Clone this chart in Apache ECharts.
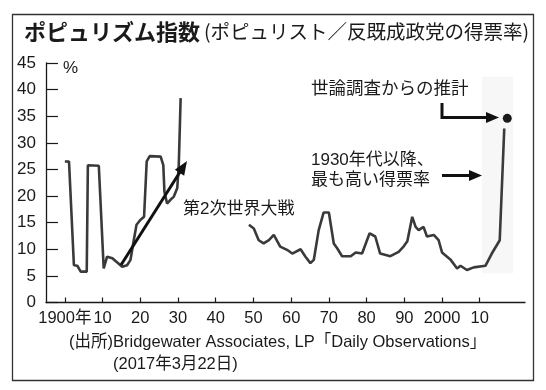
<!DOCTYPE html>
<html><head><meta charset="utf-8">
<script src="https://cdn.jsdelivr.net/npm/echarts@6/dist/echarts.min.js"></script>
<style>html,body{margin:0;padding:0;background:#fff}#c{width:546px;height:390px}</style>
</head><body><div id="c"></div>
<script>
// ---- data ----
const prewarYears  = [1900,1901.1,1902.4,1903.3,1904.2,1905.8,1906.1,1909,1910.3,1911.2,1912.6,1913.9,1915.2,1916.5,1917.4,1918.2,1919,1920,1921,1921.7,1922.5,1925.4,1926.1,1926.4,1927.1,1928,1928.9,1929.8,1930.2,1930.7];
const prewarValues = [26.5,26.5,7.0,6.9,5.8,5.8,25.8,25.7,6.4,8.6,8.3,7.5,6.7,7.0,8.0,11.4,14.6,15.5,16.1,26.5,27.5,27.4,25.8,20.8,18.6,19.3,19.9,21.5,25.8,38.4];
const postwarYears  = [1948.8,1950.1,1951.4,1952.7,1954.1,1955.4,1957.1,1958.9,1960.3,1962.5,1963.8,1965.1,1966,1967.3,1968.6,1970,1971.3,1972.2,1973.5,1975.8,1977.1,1978.8,1980.8,1982.3,1983.6,1986.3,1988.5,1989.8,1990.8,1992.1,1993,1993.8,1995.1,1996,1997.8,1999.1,2000,2002.2,2004,2004.9,2006.6,2008.4,2011.5,2013.2,2015.3,2016.5];
const postwarValues = [14.6,13.9,11.7,11.1,11.7,12.7,10.5,9.9,9.2,10.0,8.6,7.4,8.0,13.6,16.9,16.9,11.1,10.2,8.7,8.7,9.4,9.2,13.0,12.4,9.2,8.7,9.5,10.5,11.5,16.1,14.2,13.6,14.2,12.4,12.7,11.7,9.4,8.1,6.4,6.9,6.1,6.6,6.9,9.2,11.7,32.7];
const estimateYears  = [2017.3];
const estimateValues = [34.6];
const xTickValues = [1900,1910,1920,1930,1940,1950,1960,1970,1980,1990,2000,2010];
const xTickLabels = ['1900年','10','20','30','40','50','60','70','80','90','2000','10'];
const yTickLabels = ['0','5','10','15','20','25','30','35','40','45'];
const highlightBand = [[2010.6, 5.5], [2018.9, 42.4]];

// ---- chart ----
const pair = (xs, ys) => xs.map((x, i) => [x, ys[i]]);
const CJK = '"Noto Sans CJK JP", sans-serif';
const NUM = '"Liberation Sans Narrow", "Liberation Sans", Arial, sans-serif';
const MIX = '"Liberation Sans Narrow", "Liberation Sans", "Noto Sans CJK JP", sans-serif';
const ink = '#1a1a1a';
const lineColor = '#3a3a3a';

function arrowHead(tx, ty, ux, uy, len, half) {
  const bx = tx - ux * len, by = ty - uy * len;
  return [[tx, ty], [bx + uy * half, by - ux * half], [bx - uy * half, by + ux * half]];
}
const d = [187 - 121, 161 - 265]; const dl = Math.hypot(d[0], d[1]);
const du = [d[0] / dl, d[1] / dl];

const chart = echarts.init(document.getElementById('c'), null, {renderer: 'canvas'});
chart.setOption({
  animation: false,
  backgroundColor: '#fff',
  grid: {left: 46, right: 21, top: 63, bottom: 87.5, containLabel: false},
  xAxis: {
    type: 'value', min: 1895, max: 2022,
    axisLine: {lineStyle: {color: ink, width: 1.3}},
    axisTick: {inside: true, length: 5, customValues: xTickValues, lineStyle: {color: ink, width: 1.2}},
    axisLabel: {customValues: xTickValues, margin: 8, color: ink, fontFamily: MIX, fontSize: 16.5,
      showMinLabel: true, showMaxLabel: true, hideOverlap: false,
      formatter: v => { const i = xTickValues.indexOf(Math.round(v)); return i < 0 ? '' : xTickLabels[i]; }},
    splitLine: {show: false}
  },
  yAxis: {
    type: 'value', min: 0, max: 45, interval: 5,
    axisLine: {show: true, lineStyle: {color: ink, width: 1.3}},
    axisTick: {show: true, inside: true, length: 12, lineStyle: {color: ink, width: 1.2}},
    axisLabel: {margin: 10, color: ink, fontFamily: NUM, fontSize: 17,
      formatter: v => yTickLabels[Math.round(v / 5)]},
    splitLine: {show: false}
  },
  series: [
    {type: 'line', data: pair(prewarYears, prewarValues), symbol: 'none',
      lineStyle: {color: lineColor, width: 2.6}, z: 3},
    {type: 'line', data: pair(postwarYears, postwarValues), symbol: 'none',
      lineStyle: {color: lineColor, width: 2.6}, z: 3,
      markArea: {silent: true, itemStyle: {color: 'rgba(0,0,0,0.03)'},
        data: [[{coord: highlightBand[0]}, {coord: highlightBand[1]}]]}},
    {type: 'scatter', data: pair(estimateYears, estimateValues), symbol: 'circle', symbolSize: 9,
      itemStyle: {color: '#1a1a1a', opacity: 1}, z: 4}
  ],
  graphic: [
    {type: 'rect', shape: {x: 12.5, y: 14.5, width: 521, height: 366}, style: {fill: 'none', stroke: '#333', lineWidth: 1.3}, z: 0},
    {type: 'text', left: 24, top: 21, style: {text: 'ポピュリズム指数', font: 'bold 22px ' + CJK, fill: ink}},
    {type: 'text', left: 204, top: 22, style: {text: '(ポピュリスト／反既成政党の得票率)', font: '19.5px ' + CJK, fill: ink}},
    {type: 'text', left: 63, top: 60, style: {text: '%', font: '17px ' + NUM, fill: ink}},
    {type: 'text', left: 311, top: 79, style: {text: '世論調査からの推計', font: '17.5px ' + CJK, fill: ink}},
    {type: 'text', left: 311, top: 152, style: {text: '1930年代以降、', font: '17px ' + MIX, fill: ink}},
    {type: 'text', left: 311, top: 170, style: {text: '最も高い得票率', font: '17px ' + CJK, fill: ink}},
    {type: 'text', left: 183, top: 201, style: {text: '第2次世界大戦', font: '17px ' + MIX, fill: ink}},
    {type: 'text', left: 69, top: 334, style: {text: '(出所)Bridgewater Associates, LP「Daily Observations」', font: '16.5px ' + MIX, fill: ink}},
    {type: 'text', left: 113, top: 356, style: {text: '(2017年3月22日)', font: '16.5px ' + MIX, fill: ink}},
    // arrows
    {type: 'line', shape: {x1: 121, y1: 265, x2: 187 - du[0] * 11, y2: 161 - du[1] * 11}, style: {stroke: '#111', lineWidth: 3}, z: 5},
    {type: 'polygon', shape: {points: arrowHead(187, 161, du[0], du[1], 14, 5.5)}, style: {fill: '#111'}, z: 5},
    {type: 'polyline', shape: {points: [[442, 103], [442, 117.5], [488, 117.5]]}, style: {stroke: '#111', lineWidth: 3, fill: 'none'}, z: 5},
    {type: 'polygon', shape: {points: arrowHead(499, 117.5, 1, 0, 13, 5.5)}, style: {fill: '#111'}, z: 5},
    {type: 'line', shape: {x1: 442, y1: 175.5, x2: 471, y2: 175.5}, style: {stroke: '#111', lineWidth: 3}, z: 5},
    {type: 'polygon', shape: {points: arrowHead(482, 175.5, 1, 0, 13, 5.5)}, style: {fill: '#111'}, z: 5}
  ]
});
</script></body></html>
